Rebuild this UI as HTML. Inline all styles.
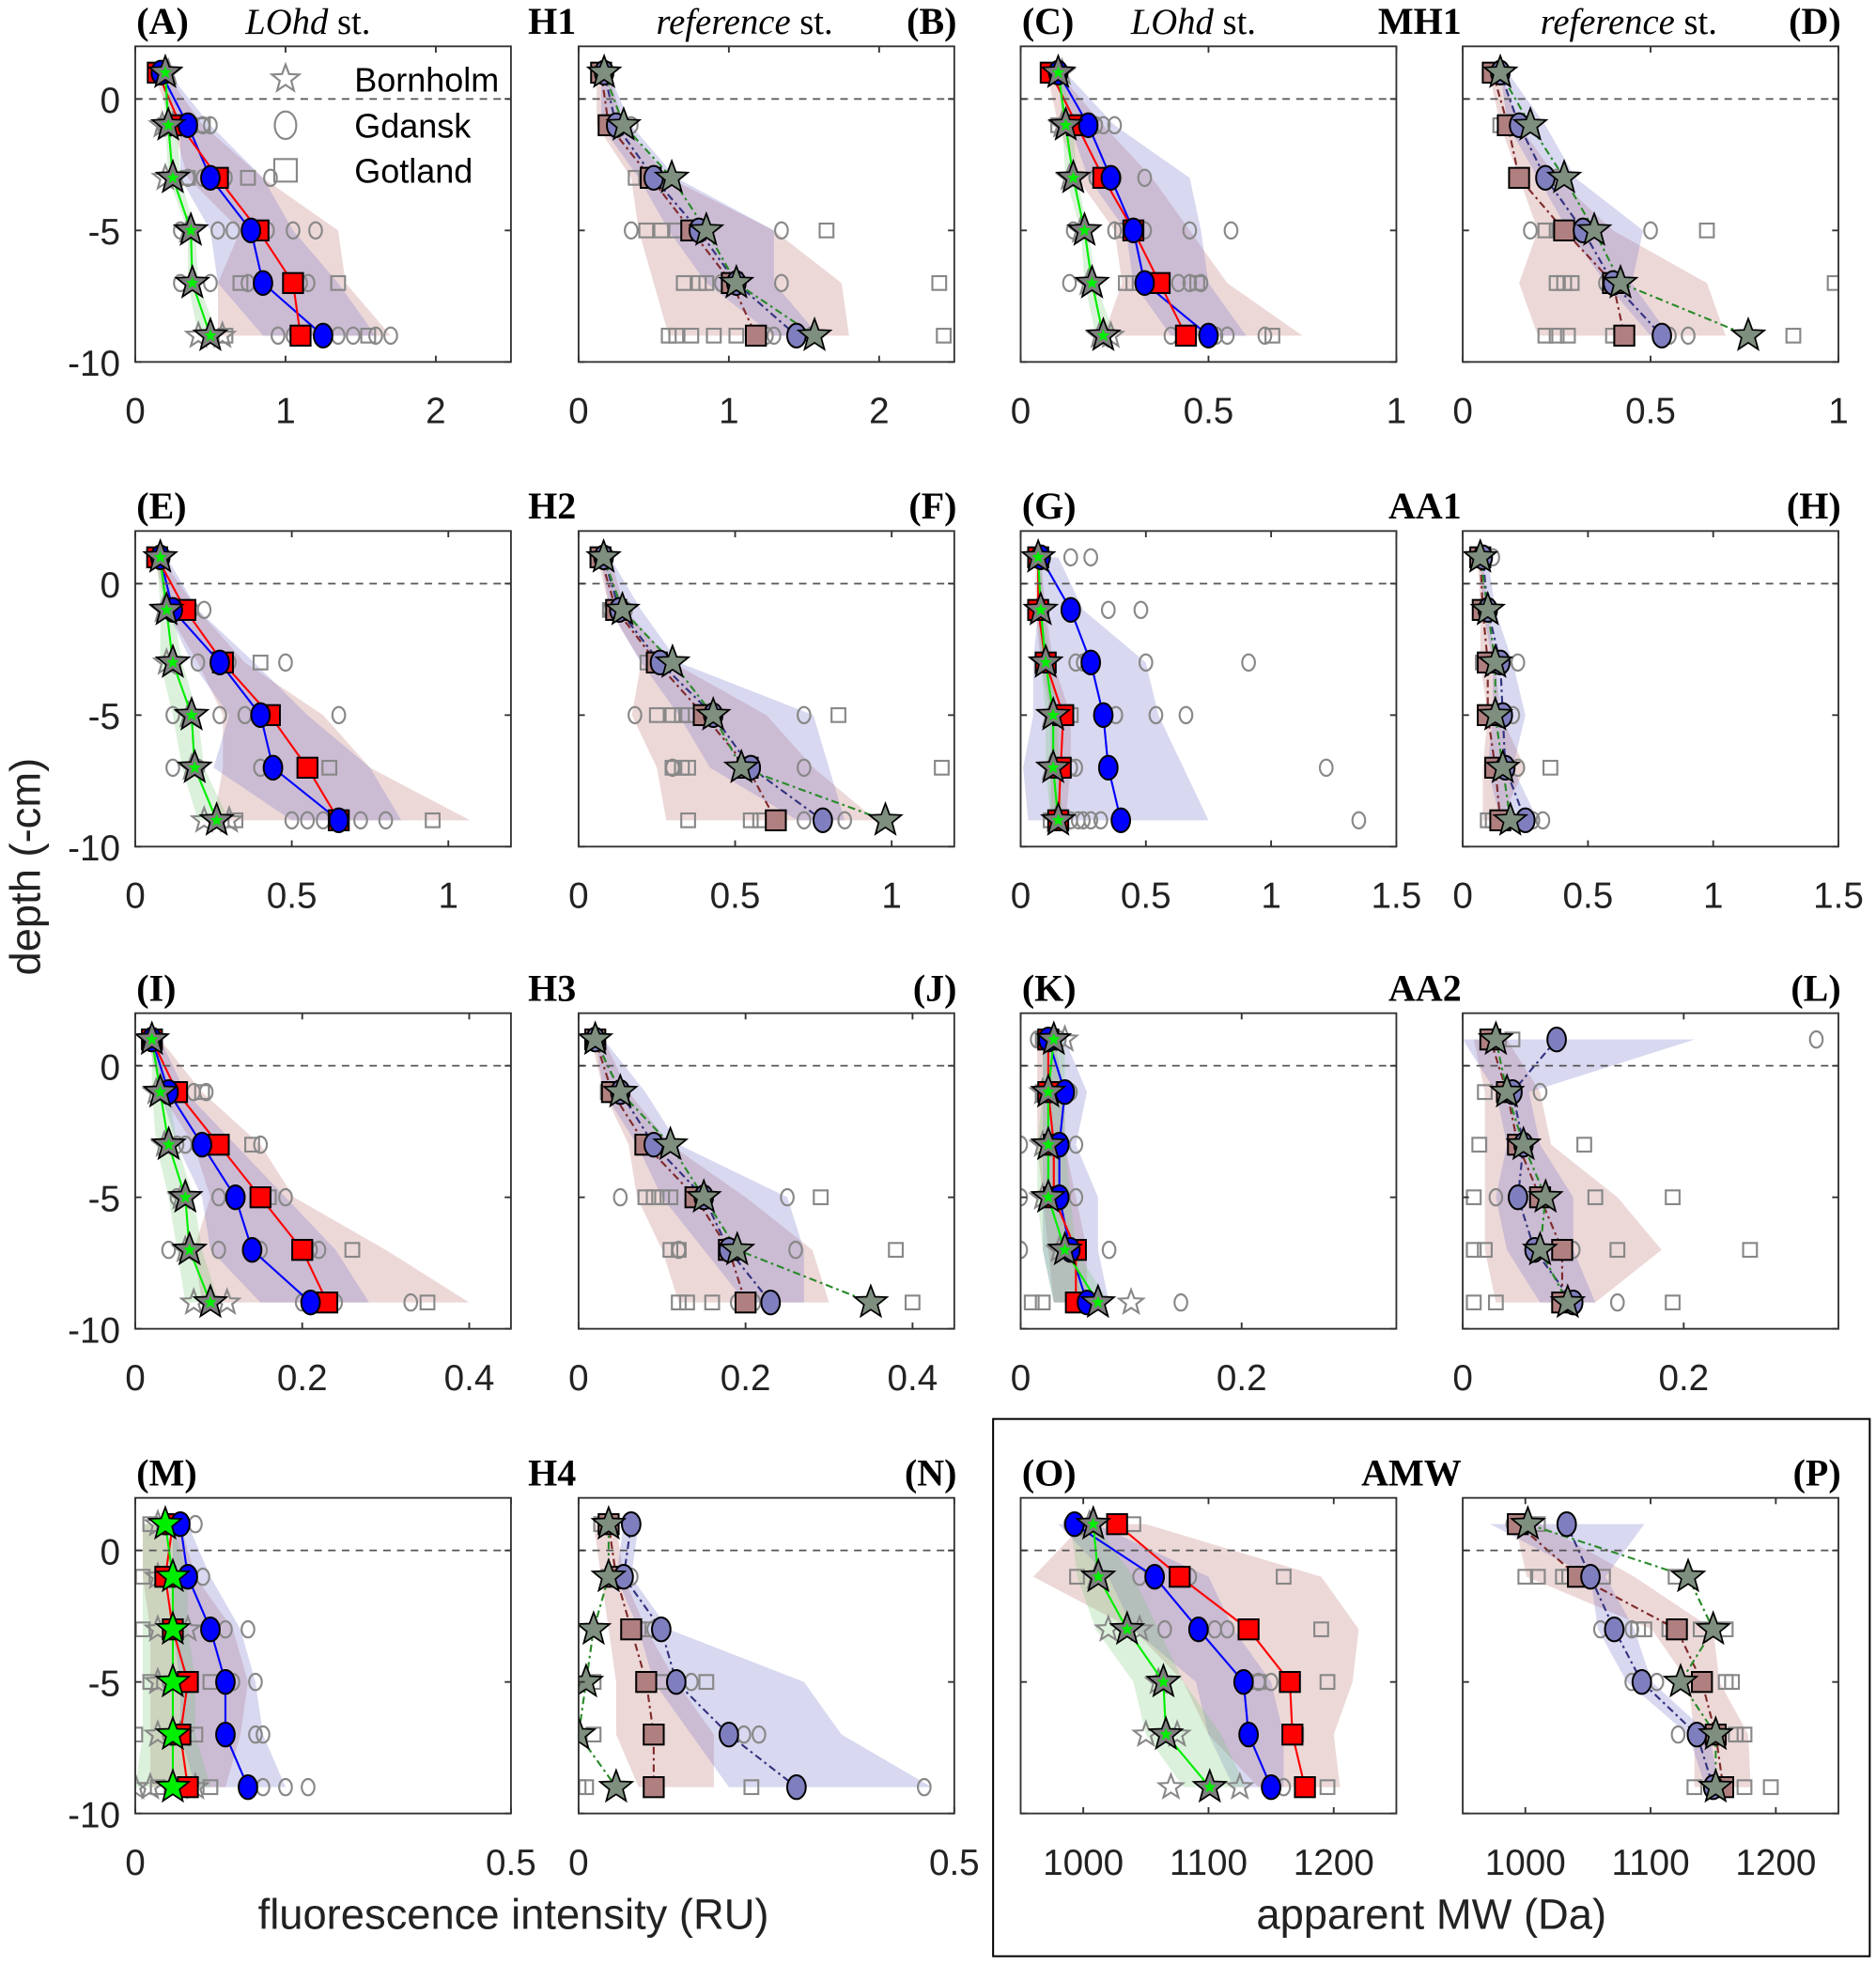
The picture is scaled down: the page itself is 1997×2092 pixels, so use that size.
<!DOCTYPE html>
<html><head><meta charset="utf-8">
<style>
html,body{margin:0;padding:0;background:#fff;}
svg{display:block;}
text{font-family:"Liberation Sans",sans-serif;}
.ttl{font-family:"Liberation Serif",serif;font-weight:bold;font-size:30px;}
.it{font-family:"Liberation Serif",serif;font-size:29px;}
.tk{font-size:29px;fill:#222;}
</style></head>
<body>
<svg id="fig" width="1997" height="2092" viewBox="0 0 1498 1569" preserveAspectRatio="none" xmlns="http://www.w3.org/2000/svg">
<rect x="0" y="0" width="1498" height="1569" fill="#fff"/>
<rect x="793" y="1133" width="700" height="429" fill="none" stroke="#000" stroke-width="1.5"/>
<text transform="translate(32,692) rotate(-90)" text-anchor="middle" font-size="34" fill="#222">depth (-cm)</text>
<text x="410" y="1540" text-anchor="middle" font-size="34" fill="#222">fluorescence intensity (RU)</text>
<text x="1143" y="1540" text-anchor="middle" font-size="34" fill="#222">apparent MW (Da)</text>
<g id="plots"></g>
</svg>
<script>
const depths=[1,-1,-3,-5,-7,-9];
// ---- Panel A (H1 LOhd) ----
const A_gt=[.15,.3,.55,.82,1.05,1.1], A_gd=[.17,.35,.5,.77,.85,1.25], A_bh=[.2,.22,.25,.37,.38,.5];
const A_gdLo=[.17,.3,.3,.5,.55,.85], A_gdHi=[.22,.5,.85,1.05,1.35,1.6];
const A_gtLo=[.12,.25,.35,.7,.55,.55], A_gtHi=[.2,.45,.85,1.35,1.4,1.7];
const A_bhLo=[.18,.2,.22,.35,.35,.42], A_bhHi=[.2,.28,.3,.4,.42,.55];
const A_gdRep=[[.17],[.2,.28,.35,.45,.5],[.35,.45,.5,.6,.9],[.3,.55,.65,.8,.88,1.05,1.2],[.3,.5,.75,.85,1.1,1.15],[.95,1.05,1.35,1.45,1.6,1.7]];
const A_gtRep=[[.15],[.2,.45],[.35,.75],[.8],[.7,1.35],[.6,1.55]];
const A_bhRep=[[.22],[.18,.25],[.2],[.35],[.38],[.42,.58]];
// ---- Panel B (H1 ref) ----
const B_gt=[.15,.2,.48,.75,1.02,1.18], B_gd=[.17,.25,.5,.8,1.05,1.45], B_bh=[.17,.3,.62,.85,1.05,1.57];
const B_gdLo=[.15,.15,.4,.6,.85,1.3], B_gdHi=[.2,.35,.65,1.3,1.3,1.6];
const B_gtLo=[.12,.12,.35,.4,.5,.6], B_gtHi=[.2,.3,.6,1.3,1.75,1.8];
const B_gdRep=[[.17],[.2,.35],[.5],[.35,1.35],[.95,1.35],[1.25,1.3,1.55]];
const B_gtRep=[[.15],[.2,.25],[.38,.45],[.45,.55,.65,1.65],[.7,.8,.85,2.4],[.6,.65,.75,.9,1.05,2.43]];
const B_bhRep=[[],[],[],[],[],[]];
// ---- Panel C (MH1 LOhd) ----
const C_gt=[.08,.15,.22,.3,.37,.44], C_gd=[.1,.18,.24,.3,.33,.5], C_bh=[.1,.12,.14,.17,.19,.22];
const C_gdLo=[.1,.13,.18,.28,.3,.4], C_gdHi=[.12,.25,.45,.48,.5,.6];
const C_gtLo=[.07,.1,.15,.25,.27,.22], C_gtHi=[.1,.22,.35,.45,.55,.75];
const C_bhLo=[.1,.11,.12,.16,.17,.2], C_bhHi=[.11,.14,.15,.18,.2,.25];
const C_gdRep=[[.1],[.2,.22,.25],[.2,.25,.33],[.14,.25,.33,.45,.56],[.13,.42,.45,.48],[.4,.5,.52,.55,.65]];
const C_gtRep=[[.08],[.1,.12],[.22],[.27],[.28,.3,.47],[.67]];
const C_bhRep=[[.11],[.11],[.13],[.16],[.18],[.21,.24]];
// ---- Panel D (MH1 ref) ----
const D_gt=[.08,.12,.15,.27,.4,.43], D_gd=[.1,.15,.22,.32,.4,.53], D_bh=[.1,.18,.27,.35,.42,.76];
const D_gdLo=[.1,.12,.2,.28,.38,.5], D_gdHi=[.12,.22,.3,.48,.45,.55];
const D_gtLo=[.07,.1,.15,.2,.15,.2], D_gtHi=[.1,.15,.25,.4,.65,.7];
const D_gdRep=[[.1],[.14],[.22,.25],[.18,.5],[.38,.4,.42],[.55,.6]];
const D_gtRep=[[.08,.1],[.1],[.15],[.22,.25,.28,.65],[.25,.27,.29,.99],[.22,.25,.28,.4,.88]];
const D_bhRep=[[],[],[],[],[],[]];
// ---- Panel E (H2 LOhd) ----
const E_gt=[.07,.16,.28,.43,.55,.65], E_gd=[.08,.12,.27,.4,.44,.65], E_bh=[.08,.1,.12,.18,.19,.26];
const E_gdLo=[.07,.1,.18,.3,.25,.5], E_gdHi=[.1,.2,.38,.55,.75,.85];
const E_gtLo=[.06,.1,.2,.28,.28,.25], E_gtHi=[.08,.2,.35,.6,.75,1.07];
const E_bhLo=[.07,.08,.08,.12,.15,.2], E_bhHi=[.08,.12,.15,.2,.22,.3];
const E_gdRep=[[.08],[.18,.22],[.2,.3,.48],[.12,.27,.35,.65],[.12,.2,.4,.43],[.5,.55,.6,.72,.8]];
const E_gtRep=[[.07],[.13],[.4],[.4],[.62],[.32,.95]];
const E_bhRep=[[.08],[.09],[.1],[.17],[.18],[.22,.3]];
// ---- Panel F (H2 ref) ----
const F_gt=[.07,.12,.25,.4,.54,.63], F_gd=[.08,.13,.26,.43,.55,.78], F_bh=[.08,.14,.3,.43,.52,.98];
const F_gdLo=[.07,.1,.2,.32,.42,.7], F_gdHi=[.1,.2,.32,.75,.8,.85];
const F_gtLo=[.06,.1,.2,.17,.25,.28], F_gtHi=[.1,.15,.3,.6,.75,.95];
const F_gdRep=[[.08],[.1,.15],[.25],[.18,.72],[.3,.72],[.62,.72,.85]];
const F_gtRep=[[.07],[.1],[.22],[.25,.3,.33,.35,.83],[.3,.33,.35,1.16],[.35,.55,.58]];
const F_bhRep=[[],[],[],[],[],[]];
// ---- Panel G (AA1 LOhd) ----
const G_gt=[.07,.07,.1,.17,.16,.15], G_gd=[.08,.2,.28,.33,.35,.4], G_bh=[.07,.08,.1,.13,.13,.15];
const G_gdLo=[.07,.07,.05,.05,.01,.03], G_gdHi=[.15,.25,.5,.55,.65,.75];
const G_gtLo=[.06,.06,.08,.12,.12,.12], G_gtHi=[.08,.1,.13,.2,.2,.18];
const G_bhLo=[.07,.07,.08,.1,.1,.12], G_bhHi=[.08,.09,.12,.15,.15,.17];
const G_gdRep=[[.2,.28],[.35,.48],[.22,.25,.5,.91],[.15,.38,.54,.66],[.2,.22,1.22],[.2,.23,.25,.28,.32,1.35]];
const G_gtRep=[[.06],[.07],[.1],[.2],[.15],[.12]];
const G_bhRep=[[.07],[.07],[.09],[.12],[.12],[.14]];
// ---- Panel H (AA1 ref) ----
const H_gt=[.07,.08,.1,.1,.13,.15], H_gd=[.08,.1,.15,.16,.17,.25], H_bh=[.07,.1,.13,.13,.16,.19];
const H_gdLo=[.07,.08,.12,.12,.1,.15], H_gdHi=[.1,.13,.2,.25,.2,.3];
const H_gtLo=[.06,.07,.07,.1,.08,.08], H_gtHi=[.08,.1,.13,.15,.25,.15];
const H_gdRep=[[.12],[.1],[.22],[.2],[.22],[.28,.32]];
const H_gtRep=[[.07],[.08],[.08],[.1],[.35],[.1,.12]];
const H_bhRep=[[],[],[],[],[],[]];
// ---- Panel I (H3 LOhd) ----
const I_gt=[.02,.05,.1,.15,.2,.23], I_gd=[.02,.04,.08,.12,.14,.21], I_bh=[.02,.03,.04,.06,.065,.09];
const I_gdLo=[.02,.03,.05,.08,.09,.15], I_gdHi=[.03,.06,.12,.18,.24,.28];
const I_gtLo=[.015,.03,.07,.09,.07,.08], I_gtHi=[.03,.08,.15,.19,.3,.4];
const I_bhLo=[.02,.02,.025,.04,.05,.06], I_bhHi=[.025,.04,.05,.07,.08,.1];
const I_gdRep=[[.02],[.07,.085],[.05,.06,.075,.1,.15],[.05,.1,.12,.15,.18],[.04,.1,.15,.21,.22],[.2,.24,.33]];
const I_gtRep=[[.02],[.08],[.14],[.16],[.26],[.35]];
const I_bhRep=[[.02],[.025],[.035],[.055],[.06],[.07,.11]];
// ---- Panel J (H3 ref) ----
const J_gt=[.02,.04,.08,.14,.18,.2], J_gd=[.02,.05,.09,.15,.18,.23], J_bh=[.02,.05,.11,.15,.19,.35];
const J_gdLo=[.02,.03,.07,.1,.15,.2], J_gdHi=[.03,.08,.12,.25,.27,.27];
const J_gtLo=[.015,.03,.06,.07,.1,.12], J_gtHi=[.03,.06,.11,.2,.28,.3];
const J_gdRep=[[.02],[.04],[.09],[.05,.25],[.12,.26],[.19,.21]];
const J_gtRep=[[.02],[.035],[.08],[.08,.09,.1,.11,.29],[.11,.12,.38],[.12,.13,.16,.4]];
const J_bhRep=[[],[],[],[],[],[]];
// ---- Panel K (AA2 LOhd) ----
const K_gt=[.025,.025,.03,.03,.05,.05], K_gd=[.025,.04,.035,.035,.045,.06], K_bh=[.03,.025,.025,.025,.04,.07];
const K_gdLo=[.02,.02,.02,.02,.02,.03], K_gdHi=[.04,.06,.05,.07,.07,.08];
const K_gtLo=[.015,.015,.015,.02,.025,.03], K_gtHi=[.03,.04,.04,.05,.06,.06];
const K_bhLo=[.02,.02,.015,.015,.02,.03], K_bhHi=[.04,.04,.04,.045,.05,.08];
const K_gdRep=[[.015,.02,.035],[.045],[0,.05],[0,.05],[0,.08],[.145]];
const K_gtRep=[[.02],[.02],[.03],[.03],[.05],[.01,.02]];
const K_bhRep=[[.04],[.02],[.02],[.02],[.035],[.1]];
// ---- Panel L (AA2 ref) ----
const L_gt=[.025,.04,.05,.07,.09,.09], L_gd=[.085,.045,.055,.05,.065,.1], L_bh=[.03,.04,.055,.075,.07,.095];
const L_gdLo=[0,.03,.04,.03,.04,.07], L_gdHi=[.21,.06,.07,.1,.1,.12];
const L_gtLo=[.01,.02,.02,.02,.02,.03], L_gtHi=[.04,.07,.08,.14,.18,.12];
const L_gdRep=[[.32],[.07],[.05],[.03],[.1],[.14]];
const L_gtRep=[[.045],[.02],[.015,.11],[.01,.12,.19],[.01,.02,.14,.26],[.01,.03,.19]];
const L_bhRep=[[],[],[],[],[],[]];
// ---- Panel M (H4 LOhd) ----
const M_gt=[.05,.04,.05,.07,.06,.07], M_gd=[.06,.07,.1,.12,.12,.15], M_bh=[.04,.05,.05,.05,.05,.05];
const M_gdLo=[.05,.05,.05,.06,.06,.08], M_gdHi=[.07,.1,.14,.16,.17,.2];
const M_gtLo=[.01,.01,.02,.02,.02,.02], M_gtHi=[.06,.08,.13,.15,.14,.12];
const M_bhLo=[.01,.01,.01,.01,.01,0], M_bhHi=[.05,.07,.07,.08,.08,.1];
const M_gdRep=[[.08],[.09],[.12,.15],[.13,.16],[.16,.17],[.17,.2,.23]];
const M_gtRep=[[.02],[.01],[.01],[.02,.1],[0,.08],[.03,.1]];
const M_bhRep=[[.03],[.03],[.03,.07],[.03],[.03,.06],[0,.02,.08]];
// ---- Panel N (H4 ref) ----
const N_gt=[.04,.05,.07,.09,.1,.1], N_gd=[.07,.06,.11,.13,.2,.29], N_bh=[.04,.04,.02,.01,0,.05];
const N_gdLo=[.06,.05,.08,.1,.15,.2], N_gdHi=[.08,.07,.12,.3,.35,.47];
const N_gtLo=[.02,.03,.04,.05,.05,.08], N_gtHi=[.05,.06,.09,.13,.18,.18];
const N_gdRep=[[.07],[.07],[.1],[.15],[.22,.24],[.1,.46]];
const N_gtRep=[[.03],[.04],[.08,.09],[.02,.11,.17],[.02,.1,.2],[0,.01,.1,.23]];
const N_bhRep=[[],[],[],[],[],[]];
// ---- Panel O (AMW LOhd) ----
const O_gt=[1027,1077,1132,1165,1167,1177], O_gd=[993,1057,1092,1128,1132,1150], O_bh=[1008,1012,1035,1064,1066,1101];
const O_gdLo=[980,1020,1040,1090,1100,1120], O_gdHi=[1010,1100,1120,1150,1160,1160];
const O_gtLo=[1000,960,1040,1080,1100,1140], O_gtHi=[1050,1190,1220,1215,1200,1205];
const O_bhLo=[990,995,1010,1040,1050,1080], O_bhHi=[1010,1040,1060,1080,1110,1130];
const O_gdRep=[[990],[1045,1075,1085],[1065,1105,1115],[1140,1150],[1130],[1160,1175]];
const O_gtRep=[[1040],[995,1160],[1190],[1140,1195],[1170],[1195]];
const O_bhRep=[[1005],[1010],[1020,1045],[1060],[1050,1075],[1070,1125]];
// ---- Panel P (AMW ref) ----
const P_gt=[994,1042,1121,1141,1152,1158], P_gd=[1033,1052,1071,1093,1137,1150], P_bh=[1002,1130,1150,1124,1152,1152];
const P_gdLo=[972,1052,1058,1081,1130,1144], P_gdHi=[1095,1064,1087,1101,1147,1155];
const P_gtLo=[992,1001,1101,1130,1135,1135], P_gtHi=[1012,1087,1150,1155,1178,1180];
const P_gdRep=[[990],[1052],[1060,1085],[1085,1105],[1122],[1150]];
const P_gtRep=[[1010],[1000,1010,1030,1035,1062,1120],[1090,1095,1115,1140,1160],[1160,1165],[1168,1175],[1135,1175,1196]];
const P_bhRep=[[],[],[],[],[],[]];

const colX=[108,462,815,1168], rowTop=[37,424,809,1196], PW=300, PH=252;
const panels=[
 {id:'A',c:0,r:0,x0:0,x1:2.5,tk:[0,1,2],tl:['0','1','2'],s:'L',gt:A_gt,gd:A_gd,bh:A_bh,gdLo:A_gdLo,gdHi:A_gdHi,gtLo:A_gtLo,gtHi:A_gtHi,bhLo:A_bhLo,bhHi:A_bhHi,gdR:A_gdRep,gtR:A_gtRep,bhR:A_bhRep},
 {id:'B',c:1,r:0,x0:0,x1:2.5,tk:[0,1,2],tl:['0','1','2'],s:'R',gt:B_gt,gd:B_gd,bh:B_bh,gdLo:B_gdLo,gdHi:B_gdHi,gtLo:B_gtLo,gtHi:B_gtHi,gdR:B_gdRep,gtR:B_gtRep,bhR:B_bhRep},
 {id:'C',c:2,r:0,x0:0,x1:1,tk:[0,.5,1],tl:['0','0.5','1'],s:'L',gt:C_gt,gd:C_gd,bh:C_bh,gdLo:C_gdLo,gdHi:C_gdHi,gtLo:C_gtLo,gtHi:C_gtHi,bhLo:C_bhLo,bhHi:C_bhHi,gdR:C_gdRep,gtR:C_gtRep,bhR:C_bhRep},
 {id:'D',c:3,r:0,x0:0,x1:1,tk:[0,.5,1],tl:['0','0.5','1'],s:'R',gt:D_gt,gd:D_gd,bh:D_bh,gdLo:D_gdLo,gdHi:D_gdHi,gtLo:D_gtLo,gtHi:D_gtHi,gdR:D_gdRep,gtR:D_gtRep,bhR:D_bhRep},
 {id:'E',c:0,r:1,x0:0,x1:1.2,tk:[0,.5,1],tl:['0','0.5','1'],s:'L',gt:E_gt,gd:E_gd,bh:E_bh,gdLo:E_gdLo,gdHi:E_gdHi,gtLo:E_gtLo,gtHi:E_gtHi,bhLo:E_bhLo,bhHi:E_bhHi,gdR:E_gdRep,gtR:E_gtRep,bhR:E_bhRep},
 {id:'F',c:1,r:1,x0:0,x1:1.2,tk:[0,.5,1],tl:['0','0.5','1'],s:'R',gt:F_gt,gd:F_gd,bh:F_bh,gdLo:F_gdLo,gdHi:F_gdHi,gtLo:F_gtLo,gtHi:F_gtHi,gdR:F_gdRep,gtR:F_gtRep,bhR:F_bhRep},
 {id:'G',c:2,r:1,x0:0,x1:1.5,tk:[0,.5,1,1.5],tl:['0','0.5','1','1.5'],s:'L',gt:G_gt,gd:G_gd,bh:G_bh,gdLo:G_gdLo,gdHi:G_gdHi,gtLo:G_gtLo,gtHi:G_gtHi,bhLo:G_bhLo,bhHi:G_bhHi,gdR:G_gdRep,gtR:G_gtRep,bhR:G_bhRep},
 {id:'H',c:3,r:1,x0:0,x1:1.5,tk:[0,.5,1,1.5],tl:['0','0.5','1','1.5'],s:'R',gt:H_gt,gd:H_gd,bh:H_bh,gdLo:H_gdLo,gdHi:H_gdHi,gtLo:H_gtLo,gtHi:H_gtHi,gdR:H_gdRep,gtR:H_gtRep,bhR:H_bhRep},
 {id:'I',c:0,r:2,x0:0,x1:.45,tk:[0,.2,.4],tl:['0','0.2','0.4'],s:'L',gt:I_gt,gd:I_gd,bh:I_bh,gdLo:I_gdLo,gdHi:I_gdHi,gtLo:I_gtLo,gtHi:I_gtHi,bhLo:I_bhLo,bhHi:I_bhHi,gdR:I_gdRep,gtR:I_gtRep,bhR:I_bhRep},
 {id:'J',c:1,r:2,x0:0,x1:.45,tk:[0,.2,.4],tl:['0','0.2','0.4'],s:'R',gt:J_gt,gd:J_gd,bh:J_bh,gdLo:J_gdLo,gdHi:J_gdHi,gtLo:J_gtLo,gtHi:J_gtHi,gdR:J_gdRep,gtR:J_gtRep,bhR:J_bhRep},
 {id:'K',c:2,r:2,x0:0,x1:.34,tk:[0,.2],tl:['0','0.2'],s:'L',gt:K_gt,gd:K_gd,bh:K_bh,gdLo:K_gdLo,gdHi:K_gdHi,gtLo:K_gtLo,gtHi:K_gtHi,bhLo:K_bhLo,bhHi:K_bhHi,gdR:K_gdRep,gtR:K_gtRep,bhR:K_bhRep},
 {id:'L',c:3,r:2,x0:0,x1:.34,tk:[0,.2],tl:['0','0.2'],s:'R',gt:L_gt,gd:L_gd,bh:L_bh,gdLo:L_gdLo,gdHi:L_gdHi,gtLo:L_gtLo,gtHi:L_gtHi,gdR:L_gdRep,gtR:L_gtRep,bhR:L_bhRep},
 {id:'M',c:0,r:3,x0:0,x1:.5,tk:[0,.5],tl:['0','0.5'],s:'L',green:true,gt:M_gt,gd:M_gd,bh:M_bh,gdLo:M_gdLo,gdHi:M_gdHi,gtLo:M_gtLo,gtHi:M_gtHi,bhLo:M_bhLo,bhHi:M_bhHi,gdR:M_gdRep,gtR:M_gtRep,bhR:M_bhRep},
 {id:'N',c:1,r:3,x0:0,x1:.5,tk:[0,.5],tl:['0','0.5'],s:'R',gt:N_gt,gd:N_gd,bh:N_bh,gdLo:N_gdLo,gdHi:N_gdHi,gtLo:N_gtLo,gtHi:N_gtHi,gdR:N_gdRep,gtR:N_gtRep,bhR:N_bhRep},
 {id:'O',c:2,r:3,x0:950,x1:1250,tk:[1000,1100,1200],tl:['1000','1100','1200'],s:'L',gt:O_gt,gd:O_gd,bh:O_bh,gdLo:O_gdLo,gdHi:O_gdHi,gtLo:O_gtLo,gtHi:O_gtHi,bhLo:O_bhLo,bhHi:O_bhHi,gdR:O_gdRep,gtR:O_gtRep,bhR:O_bhRep},
 {id:'P',c:3,r:3,x0:950,x1:1250,tk:[1000,1100,1200],tl:['1000','1100','1200'],s:'R',gt:P_gt,gd:P_gd,bh:P_bh,gdLo:P_gdLo,gdHi:P_gdHi,gtLo:P_gtLo,gtHi:P_gtHi,gdR:P_gdRep,gtR:P_gtRep,bhR:P_bhRep}
];
const NS='http://www.w3.org/2000/svg';
const root=document.getElementById('plots');
function mk(tag,attrs,parent){const e=document.createElementNS(NS,tag);for(const k in attrs)e.setAttribute(k,attrs[k]);(parent||root).appendChild(e);return e;}
function starPts(cx,cy,R){const r=R*0.42;let p=[];for(let i=0;i<10;i++){const a=-Math.PI/2+i*Math.PI/5;const rr=i%2?r:R;p.push((cx+rr*Math.cos(a)).toFixed(1)+','+(cy+rr*Math.sin(a)).toFixed(1));}return p.join(' ');}
function marker(g,type,x,y,size,fill,stroke,sw,name){
  let e;
  if(type==='c'){e=mk('ellipse',{cx:x,cy:y,rx:size*0.78,ry:size,fill:fill,stroke:stroke,'stroke-width':sw},g);}
  else if(type==='s'){e=mk('rect',{x:x-size,y:y-size,width:2*size,height:2*size,fill:fill,stroke:stroke,'stroke-width':sw},g);}
  else {e=mk('polygon',{points:starPts(x,y,size*1.35),fill:fill,stroke:stroke,'stroke-width':sw},g);}
  
  
  return e;
}
panels.forEach(p=>{
  const L=colX[p.c],T=rowTop[p.r],R=L+PW,B=T+PH;
  const sx=v=>L+(v-p.x0)/(p.x1-p.x0)*PW;
  const sy=d=>B-(d+10)/12*PH;
  const g=mk('g',{});
  
  
  const clipId='clip'+p.id;
  const cp=mk('clipPath',{id:clipId},g);mk('rect',{x:L,y:T,width:PW,height:PH},cp);
  const inner=mk('g',{'clip-path':'url(#'+clipId+')'},g);
  const band=(lo,hi,fill,name)=>{
    if(!lo)return;
    let pts=[];depths.forEach((d,i)=>pts.push(sx(hi[i])+','+sy(d)));
    for(let i=depths.length-1;i>=0;i--)pts.push(sx(lo[i])+','+sy(depths[i]));
    const e=mk('polygon',{points:pts.join(' '),fill:fill},inner);
    
    
  };
  band(p.gtLo,p.gtHi,'rgba(190,110,110,0.27)','gotland-range-band');
  band(p.gdLo,p.gdHi,'rgba(110,110,200,0.27)','gdansk-range-band');
  band(p.bhLo,p.bhHi,'rgba(110,200,110,0.25)','bornholm-range-band');
  const zl=mk('line',{x1:L,x2:R,y1:sy(0),y2:sy(0),stroke:'#555','stroke-width':1.3,'stroke-dasharray':'6,5'},g);
  
  
  const rep=(arr,type,sz,name)=>arr.forEach((vals,i)=>vals.forEach(v=>marker(inner,type,sx(v),sy(depths[i]),sz,'none','#888',1.6,name)));
  rep(p.gtR,'s',5.5,'gotland-replicate');
  rep(p.gdR,'c',6.5,'gdansk-replicate');
  rep(p.bhR,'t',7.5,'bornholm-replicate');
  const lohd=p.s==='L';
  const line=(vals,color,name)=>{
    const pts=vals.map((v,i)=>sx(v)+','+sy(depths[i])).join(' ');
    const e=mk('polyline',{points:pts,fill:'none',stroke:color,'stroke-width':1.6},inner);
    if(!lohd)e.setAttribute('stroke-dasharray','6,3,2,3');
    
    
  };
  line(p.gd,lohd?'#0000ff':'#33337f','gdansk-mean-line');
  line(p.gt,lohd?'#ff0000':'#7f2a2a','gotland-mean-line');
  line(p.bh,lohd?'#00ee00':'#2a8a2a','bornholm-mean-line');
  p.gt.forEach((v,i)=>marker(inner,'s',sx(v),sy(depths[i]),8,lohd?'#ff0000':'#b07f7f','#000',1.5,'gotland-mean-point'));
  p.gd.forEach((v,i)=>marker(inner,'c',sx(v),sy(depths[i]),9.5,lohd?'#0000ff':'#7f7fbf','#000',1.5,'gdansk-mean-point'));
  p.bh.forEach((v,i)=>{
    marker(inner,'t',sx(v),sy(depths[i]),10,p.green?'#00ee00':(lohd?'#7f7f7f':'#7f8f7f'),'#000',1.3,'bornholm-mean-point');
    if(lohd&&!p.green)marker(inner,'t',sx(v),sy(depths[i]),4,'#00ee00','none',0,'bornholm-mean-center');
  });
  const fr=mk('rect',{x:L,y:T,width:PW,height:PH,fill:'none',stroke:'#333','stroke-width':1.4},g);
  
  
  p.tk.forEach((t,i)=>{
    const x=sx(t);
    mk('line',{x1:x,x2:x,y1:B,y2:B-5,stroke:'#333','stroke-width':1.4},g);
    mk('line',{x1:x,x2:x,y1:T,y2:T+5,stroke:'#333','stroke-width':1.4},g);
    const tx=mk('text',{x:x,y:B+49,'text-anchor':'middle',class:'tk'},g);
    tx.textContent=p.tl[i];
    
    
  });
  [0,-5,-10].forEach(d=>{
    const y=sy(d);
    mk('line',{x1:L,x2:L+5,y1:y,y2:y,stroke:'#333','stroke-width':1.4},g);
    mk('line',{x1:R,x2:R-5,y1:y,y2:y,stroke:'#333','stroke-width':1.4},g);
    if(p.c===0){
      const ty=mk('text',{x:L-12,y:y+11,'text-anchor':'end',class:'tk'},g);
      ty.textContent=String(d);
      
      
    }
  });
  const lt=mk('text',{x:lohd?L+1:R+2,y:T-10,'text-anchor':lohd?'start':'end',class:'ttl'},g);
  lt.textContent='('+p.id+')';
  
  
});
const titles=[['H1',0],['MH1',2],['H2',0],['AA1',2],['H3',0],['AA2',2],['H4',0],['AMW',2]];
titles.forEach((t,i)=>{
  const r=Math.floor(i/2),c=t[1];
  const e=mk('text',{x:colX[c]+PW+52,y:rowTop[r]-10,'text-anchor':'end',class:'ttl'});
  e.textContent=t[0];
  
  
});
[[0],[2]].forEach(([c])=>{
  const a=mk('text',{x:colX[c]+88,y:rowTop[0]-10,class:'it'});
  a.innerHTML='<tspan font-style="italic">LOhd</tspan> st.';
  
  
  const b=mk('text',{x:colX[c+1]+62,y:rowTop[0]-10,class:'it'});
  b.innerHTML='<tspan font-style="italic">reference</tspan> st.';
  
  
});
const leg=mk('g',{});


[['t','Bornholm',63],['c','Gdansk',100],['s','Gotland',136]].forEach(([t,n,y])=>{
  marker(leg,t,228,y,t==='t'?8.5:(t==='c'?11:9),'none','#888',1.6,'legend-marker-'+n.toLowerCase());
  const tx=mk('text',{x:283,y:y+10,'font-size':27,fill:'#000'},leg);
  tx.textContent=n;
  
  
});
</script>
</body></html>
